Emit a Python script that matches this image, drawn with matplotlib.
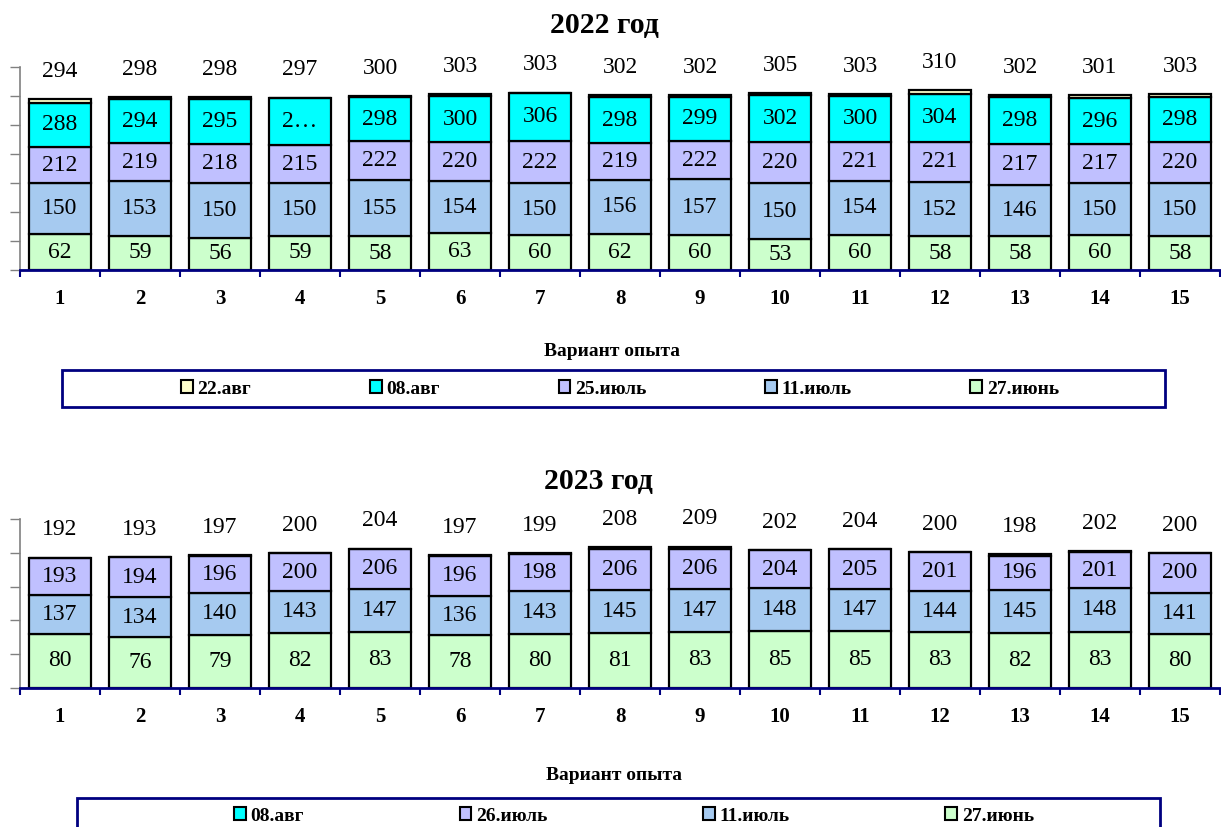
import numpy as np
import matplotlib
matplotlib.use("Agg")
import matplotlib.pyplot as plt
from matplotlib.patches import Rectangle, Patch

plt.rcParams['font.family'] = ['Liberation Serif', 'DejaVu Serif']

variants = [str(v) for v in range(1, 16)]

# 2022 - cumulative values by sampling date
y22_jun27 = [62, 59, 56, 59, 58, 63, 60, 62, 60, 53, 60, 58, 58, 60, 58]
y22_jul11 = [150, 153, 150, 150, 155, 154, 150, 156, 157, 150, 154, 152, 146, 150, 150]
y22_jul25 = [212, 219, 218, 215, 222, 220, 222, 219, 222, 220, 221, 221, 217, 217, 220]
y22_aug08 = [288, 294, 295, 296, 298, 300, 306, 298, 299, 302, 300, 304, 298, 296, 298]
y22_aug22 = [294, 298, 298, 297, 300, 303, 303, 302, 302, 305, 303, 310, 302, 301, 303]
# text shown for the 08.авг series (one label did not fit)
y22_aug08_text = ['288', '294', '295', '2…', '298', '300', '306', '298', '299',
                  '302', '300', '304', '298', '296', '298']

# 2023
y23_jun27 = [80, 76, 79, 82, 83, 78, 80, 81, 83, 85, 85, 83, 82, 83, 80]
y23_jul11 = [137, 134, 140, 143, 147, 136, 143, 145, 147, 148, 147, 144, 145, 148, 141]
y23_jul26 = [193, 194, 196, 200, 206, 196, 198, 206, 206, 204, 205, 201, 196, 201, 200]
y23_aug08 = [192, 193, 197, 200, 204, 197, 199, 208, 209, 202, 204, 200, 198, 202, 200]

c_jun27 = '#CCFFCC'
c_jul11 = '#A6CAF0'
c_jul25 = '#C0C0FF'
c_aug08 = '#00FFFF'
c_aug22 = '#FFFFCC'
navy = '#000080'

W, H = 1221, 827
fig = plt.figure(figsize=(W / 100, H / 100), dpi=100)


def px_axes(x0, y_top, x1, y_bot):
    return fig.add_axes([x0 / W, 1 - y_bot / H, (x1 - x0) / W, (y_bot - y_top) / H])


def stacked(ax, series, ymax, texts=None):
    x = np.arange(1, 16)
    prev = np.zeros(15)
    n = len(series)
    for k, (vals, color) in enumerate(series):
        vals = np.array(vals, dtype=float)
        seg = np.maximum(vals - prev, 0)
        ax.bar(x, seg, bottom=prev, width=0.77, color=color,
               edgecolor='black', linewidth=1.6, zorder=3)
        top = prev + seg
        for i in range(15):
            lab = texts[k][i] if texts and texts[k] else str(int(vals[i]))
            if k == n - 1:
                # last series is labelled above the bar
                ax.annotate(lab, (x[i], top[i]), xytext=(0, 20),
                            textcoords='offset points', ha='center',
                            va='center', fontsize=17)
            else:
                ax.text(x[i], prev[i] + seg[i] / 2, lab, ha='center',
                        va='center', fontsize=17, zorder=4)
        prev = top
    ax.set_xlim(0.5, 15.5)
    ax.set_ylim(0, ymax)
    ax.set_yticks(np.arange(0, ymax + 1, 50))
    ax.set_yticklabels([])
    ax.set_xticks(x)
    ax.set_xticklabels(variants, fontsize=15, fontweight='bold')
    ax.set_xticks(np.arange(0.5, 15.6, 1), minor=True)
    ax.tick_params(axis='x', which='major', length=0, pad=14)
    ax.tick_params(axis='x', which='minor', length=5, width=1.5, color=navy,
                   direction='out')
    ax.tick_params(axis='y', length=7, width=1, color='#808080',
                   direction='out')
    for s in ('top', 'right'):
        ax.spines[s].set_visible(False)
    ax.spines['bottom'].set_color(navy)
    ax.spines['bottom'].set_linewidth(2)
    ax.spines['bottom'].set_zorder(5)
    ax.spines['left'].set_color('#808080')
    ax.spines['left'].set_linewidth(1.2)


def legend_box(x0, y0, x1, y1, labels, colors, cx, cy, spacing):
    fig.patches.append(Rectangle((x0 / W, 1 - y1 / H), (x1 - x0) / W,
                                 (y1 - y0) / H, transform=fig.transFigure,
                                 fill=False, edgecolor=navy, linewidth=2))
    handles = [Patch(facecolor=c, edgecolor='black', linewidth=1.5) for c in colors]
    fig.legend(handles, labels, ncol=len(labels), loc='center',
               bbox_to_anchor=(cx / W, 1 - cy / H), frameon=False,
               prop={'weight': 'bold', 'size': 14}, handlelength=0.6,
               handleheight=0.6, handletextpad=0.25, columnspacing=spacing)


# 2022 chart
ax1 = px_axes(20, 67, 1220, 270)
stacked(ax1, [(y22_jun27, c_jun27), (y22_jul11, c_jul11), (y22_jul25, c_jul25),
              (y22_aug08, c_aug08), (y22_aug22, c_aug22)], 350,
        texts=[None, None, None, y22_aug08_text, None])
fig.text(604 / W, 1 - 26 / H, '2022 год', ha='center', va='center',
         fontsize=21.5, fontweight='bold')
fig.text(612 / W, 1 - 352 / H, 'Вариант опыта', ha='center', va='center',
         fontsize=14, fontweight='bold')
legend_box(62, 370, 1165, 407,
           ['22.авг', '08.авг', '25.июль', '11.июль', '27.июнь'],
           [c_aug22, c_aug08, c_jul25, c_jul11, c_jun27], 620, 389, 6.1)

# 2023 chart
ax2 = px_axes(20, 519, 1220, 688)
stacked(ax2, [(y23_jun27, c_jun27), (y23_jul11, c_jul11), (y23_jul26, c_jul25),
              (y23_aug08, c_aug08)], 250)
fig.text(598 / W, 1 - 481 / H, '2023 год', ha='center', va='center',
         fontsize=21.5, fontweight='bold')
fig.text(614 / W, 1 - 775 / H, 'Вариант опыта', ha='center', va='center',
         fontsize=14, fontweight='bold')
legend_box(77, 798, 1160, 860,
           ['08.авг', '26.июль', '11.июль', '27.июнь'],
           [c_aug08, c_jul25, c_jul11, c_jun27], 634, 816, 8.0)

fig.savefig('out.png', dpi=100)
